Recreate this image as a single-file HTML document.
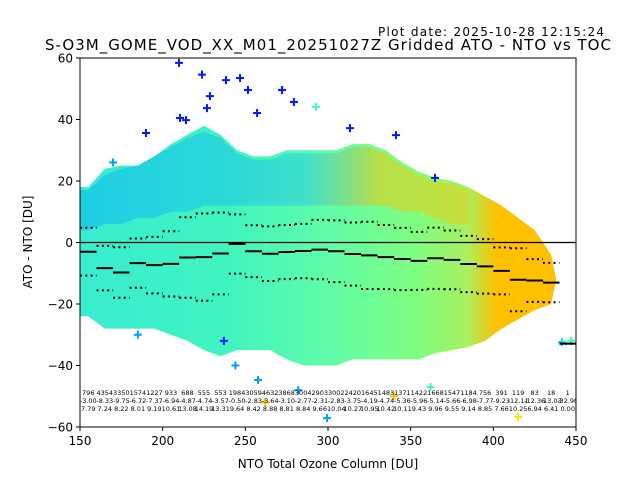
<!DOCTYPE html>
<html><head><meta charset="utf-8"><style>
html,body{margin:0;padding:0;background:#fff;}
svg text{font-family:"DejaVu Sans","Liberation Sans",sans-serif;}
</style></head><body>
<svg id="chart" width="640" height="480" viewBox="0 0 640 480" xmlns="http://www.w3.org/2000/svg">
<defs>
<linearGradient id="cloudGrad" x1="80" x2="576" y1="0" y2="0" gradientUnits="userSpaceOnUse">
<stop offset="0" stop-color="#38ecd0"/>
<stop offset="0.3" stop-color="#40f4c0"/>
<stop offset="0.5" stop-color="#60fca8"/>
<stop offset="0.68" stop-color="#80ff80"/>
<stop offset="0.78" stop-color="#a8f060"/>
<stop offset="0.84" stop-color="#ffc000"/>
<stop offset="1" stop-color="#ffc000"/>
</linearGradient>
<linearGradient id="bandGrad" x1="80" x2="576" y1="0" y2="0" gradientUnits="userSpaceOnUse">
<stop offset="0" stop-color="#00a8ff" stop-opacity="0.45"/>
<stop offset="0.45" stop-color="#10b0ff" stop-opacity="0.35"/>
<stop offset="0.6" stop-color="#ffc000" stop-opacity="0.5"/>
<stop offset="0.75" stop-color="#ffc000" stop-opacity="0.4"/>
</linearGradient>
<clipPath id="plotClip"><rect x="80" y="58" width="496" height="369"/></clipPath>
</defs>
<text x="378" y="36" font-size="12" textLength="226">Plot date: 2025-10-28 12:15:24</text>
<text x="45" y="50" font-size="15" textLength="566">S-O3M_GOME_VOD_XX_M01_20251027Z Gridded ATO - NTO vs TOC</text>
<g id="plot" clip-path="url(#plotClip)"></g>
<g id="axes"></g>
</svg>
<script>
const binStarts=[150,160,170,180,190,200,210,220,230,240,250,260,270,280,290,300,310,320,330,340,350,360,370,380,390,400,410,420,430,440];
const counts=["796","4354","3350","1574","1227","933","688","555","553","1984","3059","4632","3868","3004","2903","3002","2420","1645","1483","1371","1422","1668","1547","1184","756","391","119","83","18","1"];
const medians=[-3.00,-8.33,-9.75,-6.72,-7.37,-6.94,-4.87,-4.74,-3.57,-0.50,-2.83,-3.64,-3.10,-2.77,-2.31,-2.83,-3.75,-4.19,-4.74,-5.36,-5.96,-5.14,-5.66,-6.98,-7.77,-9.23,-12.11,-12.36,-13.03,-32.90];
const stds=[7.79,7.24,8.22,8.01,9.19,10.61,13.08,14.19,13.31,9.64,8.42,8.88,8.81,8.84,9.66,10.04,10.27,10.95,10.42,10.11,9.43,9.96,9.55,9.14,8.85,7.66,10.25,6.94,6.41,0.00];
const upperEnv=[18,24,25,25,28,32,35,38,35,30,28,28,30,30,30,30,32,32,30,26,23,21,20,18,15,12,8,4,-4,-31];
const lowerEnv=[-24,-28,-28,-28,-28,-30,-32,-35,-37,-35,-35,-35,-38,-40,-40,-40,-38,-38,-38,-38,-38,-36,-35,-34,-32,-28,-25,-22,-20,-33];
const blueBandTop=[17,22,24,25,28,31,34,36,34,29,27,27,29,29,29,29,31,31,29,25,22,20,19,17];
const blueBandBot=[4,6,6,8,8,10,10,12,12,12,12,12,12,12,12,12,12,12,12,10,10,8,6,6];
const outX=[209.9,223.8,238.3,246.8,251.6,272.2,279.4,228.6,226.8,257.1,189.9,210.5,214.1,292.7,313.3,341.1,364.7,299.4,257.7,237,282,340,362,447,415,441.5,244,262,185,170];
const outY=[58.4,54.6,52.8,53.5,49.6,49.6,45.7,47.6,43.7,42.1,35.6,40.5,39.8,44.1,37.2,34.9,21.0,-57.1,-44.7,-32,-48,-50,-47,-32,-56.7,-32.4,-40,-52,-30,26];
const outC=["#0018ff","#0018ff","#0018ff","#0018ff","#0018ff","#0018ff","#0018ff","#0018ff","#0018ff","#0018ff","#0018ff","#0018ff","#0018ff","#40ffb0","#0018ff","#0018ff","#0018ff","#00a0ff","#00a0ff","#0018ff","#00a0ff","#ffc000","#40ffb0","#40ffb0","#ffe000","#00e0ff","#00a0ff","#ffc000","#00a0ff","#00a0ff"];
const xTicks=[150,200,250,300,350,400,450];
const yTicks=[-60,-40,-20,0,20,40,60];

const NS="http://www.w3.org/2000/svg";
const X0=80,X1=576,Y0=58,Y1=427;
function sx(v){return X0+(v-150)/(450-150)*(X1-X0);}
function sy(v){return Y1-(v+60)/120*(Y1-Y0);}
function mk(tag,attrs,parent){const e=document.createElementNS(NS,tag);for(const k in attrs)e.setAttribute(k,attrs[k]);parent.appendChild(e);return e;}
const plot=document.getElementById('plot'),axes=document.getElementById('axes');

// cloud envelope (smooth through bin centers, excluding last lone bin)
const nC=binStarts.length-1;
let pts=[sx(150)+','+sy(upperEnv[0])];
for(let i=0;i<nC;i++)pts.push(sx(binStarts[i]+5)+','+sy(upperEnv[i]));
pts.push(sx(binStarts[nC-1]+8)+','+sy((upperEnv[nC-1]+lowerEnv[nC-1])/2));
for(let i=nC-1;i>=0;i--)pts.push(sx(binStarts[i]+5)+','+sy(lowerEnv[i]));
pts.push(sx(150)+','+sy(lowerEnv[0]));
const cloud=mk('polygon',{points:pts.join(' '),fill:'url(#cloudGrad)'},plot);


let bp=[sx(150)+','+sy(blueBandTop[0])];
blueBandTop.forEach((v,i)=>bp.push(sx(binStarts[i]+5)+','+sy(v)));
for(let i=blueBandBot.length-1;i>=0;i--)bp.push(sx(binStarts[i]+5)+','+sy(blueBandBot[i]));
bp.push(sx(150)+','+sy(blueBandBot[0]));
const band=mk('polygon',{points:bp.join(' '),fill:'url(#bandGrad)'},plot);


outX.forEach((v,i)=>{
  const x=sx(v),y=sy(outY[i]);
  const p=mk('path',{d:`M${x-4},${y}H${x+4}M${x},${y-4}V${y+4}`,stroke:outC[i],'stroke-width':'2'},plot);
  
  
});
const zl=mk('line',{x1:X0,x2:X1,y1:sy(0),y2:sy(0),stroke:'#000','stroke-width':'1.3'},plot);


binStarts.forEach((b,i)=>{
  const m=mk('line',{x1:sx(b),x2:sx(b+10),y1:sy(medians[i]),y2:sy(medians[i]),stroke:'#000','stroke-width':'2'},plot);
  
  
  [medians[i]+stds[i],medians[i]-stds[i]].forEach(v=>{
    const d=mk('line',{x1:sx(b),x2:sx(b+10),y1:sy(v),y2:sy(v),stroke:'#000','stroke-width':'2','stroke-dasharray':'2,3.3'},plot);
    
    
  });
  const cx=sx(b+5);
  [counts[i],medians[i].toFixed(2),stds[i].toFixed(2)].forEach((t,k)=>{
    const tx=mk('text',{x:cx,y:395+k*8,'font-size':'6.5','text-anchor':'middle'},plot);
    tx.textContent=t;
    
    
  });
});
const fr=mk('rect',{x:X0,y:Y0,width:X1-X0,height:Y1-Y0,fill:'none',stroke:'#000','stroke-width':'1'},axes);


xTicks.forEach(v=>{
  const x=sx(v);
  mk('line',{x1:x,x2:x,y1:Y1,y2:Y1+4,stroke:'#000'},axes);
  const t=mk('text',{x:x,y:Y1+18,'font-size':'12','text-anchor':'middle'},axes);
  t.textContent=v;
  
  
});
yTicks.forEach(v=>{
  const y=sy(v);
  mk('line',{x1:X0-4,x2:X0,y1:y,y2:y,stroke:'#000'},axes);
  const t=mk('text',{x:X0-7,y:y+4.5,'font-size':'12','text-anchor':'end'},axes);
  t.textContent=v<0?'\u2212'+Math.abs(v):v;
  
  
});
const xl=mk('text',{x:328,y:468,'font-size':'12','text-anchor':'middle'},axes);
xl.textContent='NTO Total Ozone Column [DU]';


const yl=mk('text',{x:0,y:0,'font-size':'12','text-anchor':'middle',transform:'translate(32,242) rotate(-90)'},axes);
yl.textContent='ATO - NTO [DU]';


</script>
</body></html>
